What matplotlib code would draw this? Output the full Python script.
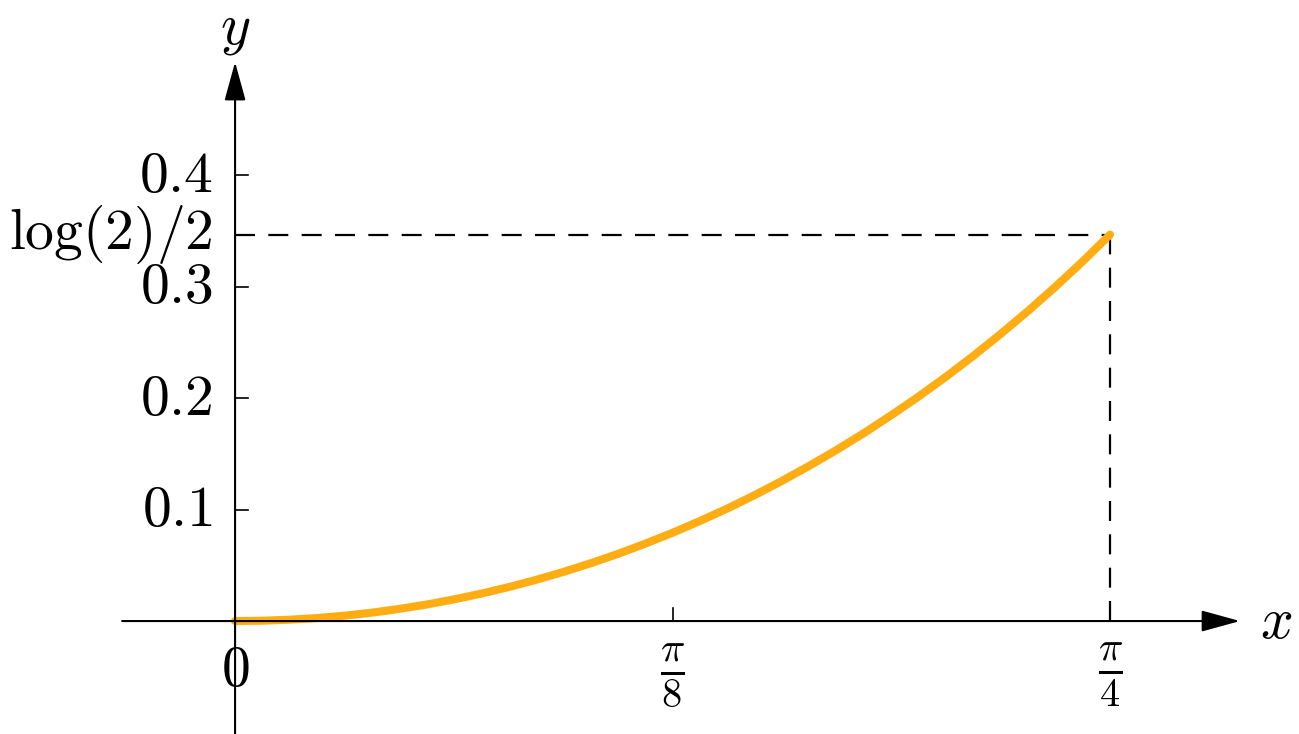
import numpy as np
import matplotlib
matplotlib.use('Agg')
import matplotlib.pyplot as plt

plt.rcParams['mathtext.fontset'] = 'cm'
plt.rcParams['font.family'] = ['DejaVu Sans']

# curve points
x_vals = [0.0, 0.0245, 0.0491, 0.0736, 0.0982, 0.1227, 0.1473, 0.1718, 0.1963,
          0.2209, 0.2454, 0.2700, 0.2945, 0.3191, 0.3436, 0.3682, 0.3927,
          0.4172, 0.4418, 0.4663, 0.4909, 0.5154, 0.5400, 0.5645, 0.5890,
          0.6136, 0.6381, 0.6627, 0.6872, 0.7118, 0.7363, 0.7609, 0.7854]
y_vals = [0.0, 0.0003, 0.0012, 0.0027, 0.0048, 0.0075, 0.0109, 0.0148, 0.0194,
          0.0246, 0.0304, 0.0369, 0.0440, 0.0518, 0.0602, 0.0694, 0.0792,
          0.0897, 0.1009, 0.1129, 0.1257, 0.1392, 0.1535, 0.1686, 0.1846,
          0.2014, 0.2191, 0.2378, 0.2575, 0.2781, 0.2998, 0.3226, 0.3466]

x_ticks = [np.pi / 8, np.pi / 4]
x_tick_labels = [r'$\frac{\pi}{8}$', r'$\frac{\pi}{4}$']
y_ticks = [0.1, 0.2, 0.3, 0.4]
y_tick_labels = [r'$0.1$', r'$0.2$', r'$0.3$', r'$0.4$']
end_x = np.pi / 4
end_y = np.log(2) / 2

fig = plt.figure(figsize=(12.99, 7.34), dpi=100)
ax = fig.add_axes([0, 0, 1, 1])
ax.set_xlim(-0.211, 0.955)
ax.set_ylim(-0.1013, 0.557)
ax.axis('off')

fs = 41.5

# axes with arrows
arrow = dict(arrowstyle='-|>,head_length=1.2,head_width=0.33', mutation_scale=20,
             lw=1.5, color='black', shrinkA=0, shrinkB=0)
ax.annotate('', xy=(0.902, 0), xytext=(-0.1014, 0), arrowprops=arrow, zorder=6)
ax.annotate('', xy=(0, 0.5013), xytext=(0, -0.1013), arrowprops=arrow, zorder=6)
ax.text(0.920, 0, r'$x$', fontsize=fs, ha='left', va='center')
ax.text(0, 0.531, r'$y$', fontsize=fs, ha='center', va='center')

# ticks
tick_x = 13 / 1114
tick_y = 13 / 1115
for xt, lab in zip(x_ticks, x_tick_labels):
    ax.plot([xt, xt], [0, tick_y], color='black', lw=1.2)
    ax.text(xt, -0.018, lab, fontsize=fs, ha='center', va='top')
ax.text(0, -0.018, r'$0$', fontsize=fs, ha='center', va='top')
for yt, lab in zip(y_ticks, y_tick_labels):
    ax.plot([0, tick_x], [yt, yt], color='black', lw=1.2)
    ax.text(-0.020, yt, lab, fontsize=fs, ha='right', va='center')
ax.text(-0.020, end_y, r'$\log(2)/2$', fontsize=fs, ha='right', va='center')

# dashed guide lines
ax.plot([0, end_x], [end_y, end_y], color='black', lw=1.6, ls=(0, (9, 6)))
ax.plot([end_x, end_x], [0, end_y], color='black', lw=1.6, ls=(0, (9, 6)))

# curve
ax.plot(x_vals, y_vals, color='#FFAD12', lw=5.8, solid_capstyle='round', zorder=4)

fig.savefig('out.png', dpi=100)
